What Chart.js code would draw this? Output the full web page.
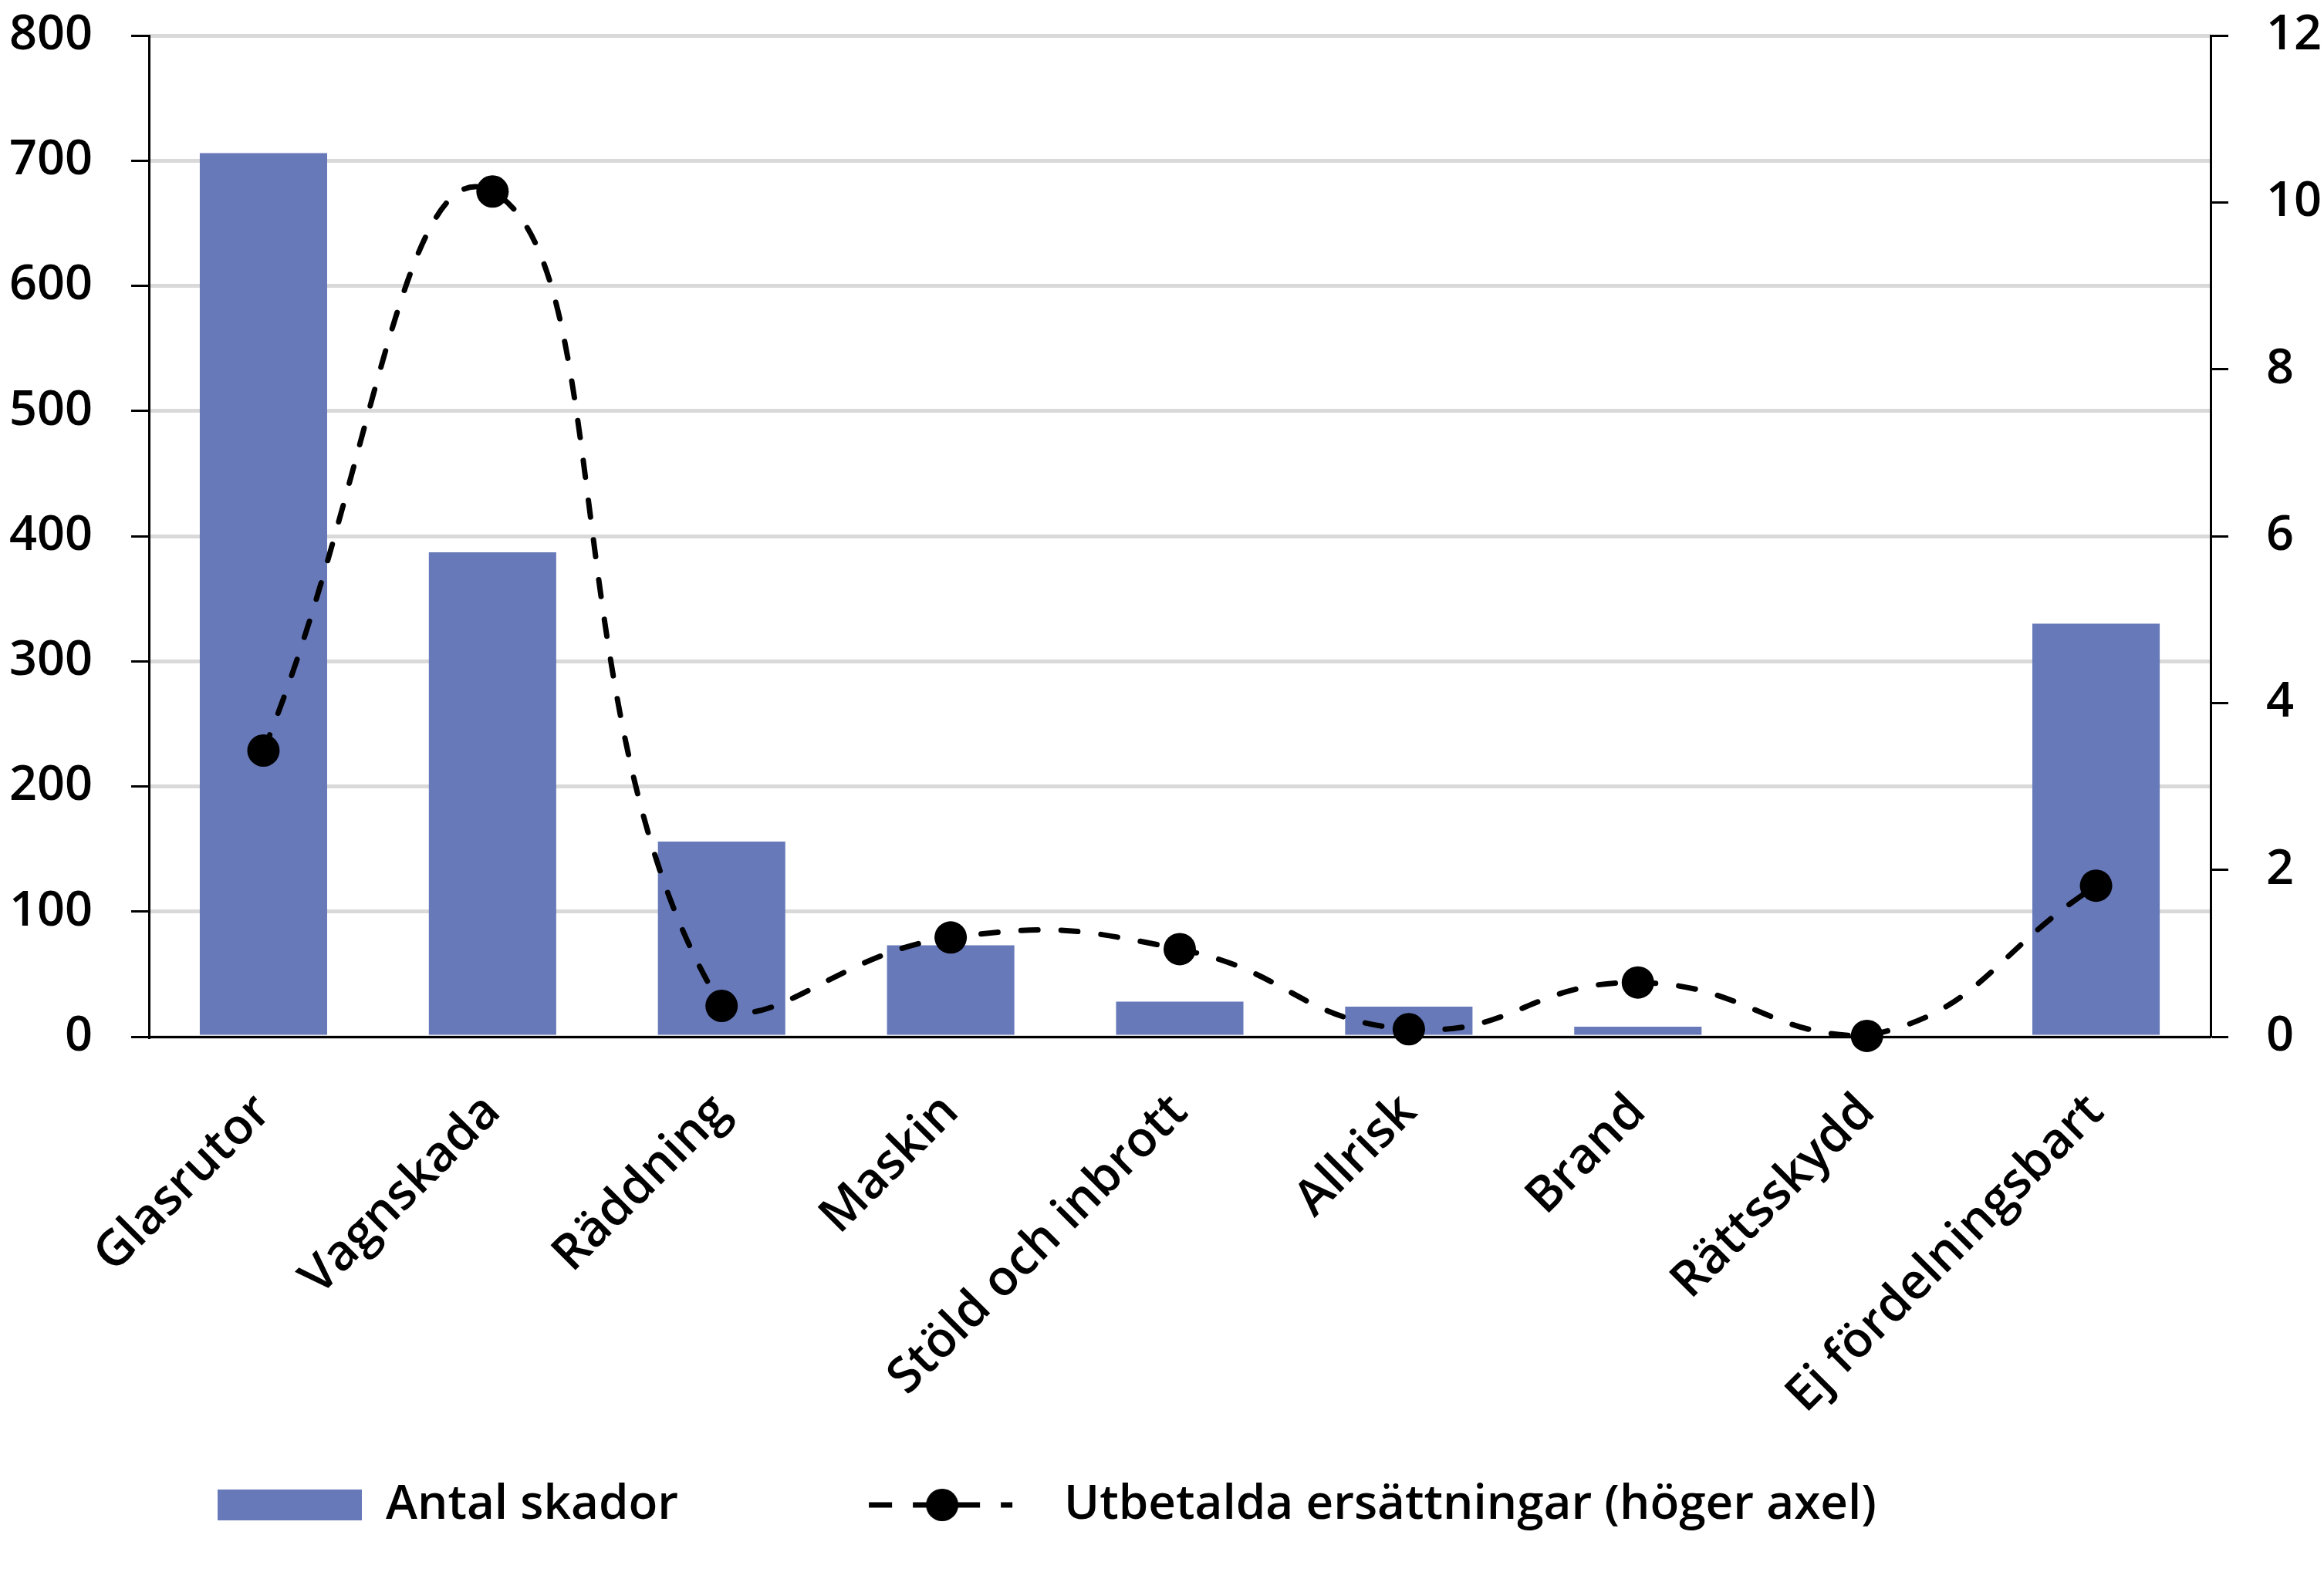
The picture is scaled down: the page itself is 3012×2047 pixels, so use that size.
<!DOCTYPE html>
<html>
<head>
<meta charset="utf-8">
<script src="https://cdn.jsdelivr.net/npm/chart.js@4.4.0/dist/chart.umd.min.js"></script>
<style>
    html, body { margin: 0; padding: 0; background: #fff; }
    #wrap { width: 3012px; height: 2047px; }
</style>
</head>
<body>
<div id="wrap"><canvas id="chart" width="3012" height="2047"></canvas></div>
<script>
// data
const categories = ['Glasrutor', 'Vagnskada', 'Räddning', 'Maskin', 'Stöld och inbrott', 'Allrisk', 'Brand', 'Rättsskydd', 'Ej fördelningsbart'];
const antalSkador = [706, 387, 156, 73, 28, 24, 8, 0, 330];
const utbetalda = [3.43, 10.13, 0.37, 1.19, 1.05, 0.09, 0.65, 0.01, 1.81];
const leftTicks = [0, 100, 200, 300, 400, 500, 600, 700, 800];
const rightTicks = [0, 2, 4, 6, 8, 10, 12];
const seriesNames = ['Antal skador', 'Utbetalda ersättningar (höger axel)'];

const BAR_COLOR = '#6779b9';
const GRID_COLOR = '#d9d9d9';
const FONT = '"Open Sans", "Noto Sans", sans-serif';

// legend symbols as images (blank space on the left sets the item offset)
function makeLegendSymbol(kind) {
    const c = document.createElement('canvas');
    c.width = 449;
    c.height = 44;
    const g = c.getContext('2d');
    if (kind === 'bar') {
        g.fillStyle = BAR_COLOR;
        g.fillRect(262, 2, 187, 40);
    } else {
        g.strokeStyle = '#000';
        g.lineWidth = 7;
        g.setLineDash([30, 27]);
        g.beginPath();
        g.moveTo(227, 22);
        g.lineTo(413, 22);
        g.stroke();
        g.fillStyle = '#000';
        g.beginPath();
        g.arc(322, 22, 21, 0, Math.PI * 2);
        g.fill();
    }
    return c;
}
const legendSymbols = [makeLegendSymbol('bar'), makeLegendSymbol('line')];

// the y axes add ticks.padding to their top/bottom padding; keep only half a label
function trimPadding(scale) {
    scale.paddingTop = 38;
    scale.paddingBottom = 38;
}

const ctx = document.getElementById('chart');
new Chart(ctx, {
    data: {
        labels: categories,
        datasets: [
            {
                type: 'bar',
                label: seriesNames[0],
                data: antalSkador,
                backgroundColor: BAR_COLOR,
                borderWidth: 0,
                barPercentage: 0.556,
                categoryPercentage: 1,
                yAxisID: 'y',
                order: 2
            },
            {
                type: 'line',
                label: seriesNames[1],
                data: utbetalda,
                borderColor: '#000',
                borderWidth: 7,
                borderDash: [22, 30],
                borderCapStyle: 'round',
                tension: 0.47,
                pointRadius: 21,
                pointBackgroundColor: '#000',
                pointBorderWidth: 0,
                fill: false,
                clip: 40,
                yAxisID: 'y2',
                order: 1
            }
        ]
    },
    options: {
        responsive: false,
        animation: false,
        devicePixelRatio: 1,
        layout: { padding: { top: 46, bottom: 55, left: 0, right: 0 } },
        plugins: {
            tooltip: { enabled: false },
            legend: {
                position: 'bottom',
                align: 'start',
                labels: {
                    color: '#000',
                    font: { family: FONT, size: 62, weight: '600' },
                    usePointStyle: true,
                    pointStyleWidth: 449,
                    padding: 20,
                    generateLabels: (chart) => chart.data.datasets.map((ds, i) => ({
                        text: ds.label,
                        fontColor: '#000',
                        pointStyle: legendSymbols[i],
                        datasetIndex: i,
                        hidden: false,
                        lineWidth: 0
                    }))
                }
            }
        },
        scales: {
            x: {
                grid: { display: false, drawTicks: false },
                border: { display: true, color: '#000', width: 3 },
                ticks: {
                    color: '#000',
                    font: { family: FONT, size: 64, weight: '600' },
                    maxRotation: 45,
                    minRotation: 45,
                    autoSkip: false,
                    padding: 60
                },
                afterFit: (scale) => { scale.height = 556; }
            },
            y: {
                position: 'left',
                min: 0,
                max: 800,
                afterBuildTicks: (scale) => { scale.ticks = leftTicks.map(v => ({ value: v })); },
                grid: {
                    color: GRID_COLOR,
                    lineWidth: 5,
                    tickColor: '#000',
                    tickWidth: 3,
                    tickLength: 23
                },
                border: { color: '#000', width: 3 },
                ticks: {
                    color: '#000',
                    font: { family: FONT, size: 63, weight: '600' },
                    padding: 50
                },
                afterFit: (scale) => { scale.width = 193; trimPadding(scale); }
            },
            y2: {
                position: 'right',
                min: 0,
                max: 12,
                afterBuildTicks: (scale) => { scale.ticks = rightTicks.map(v => ({ value: v })); },
                grid: {
                    drawOnChartArea: false,
                    tickColor: '#000',
                    tickWidth: 3,
                    tickLength: 23
                },
                border: { color: '#000', width: 3 },
                ticks: {
                    color: '#000',
                    font: { family: FONT, size: 63, weight: '600' },
                    padding: 49
                },
                afterFit: (scale) => { scale.width = 147; trimPadding(scale); }
            }
        }
    }
});
</script>
</body>
</html>
